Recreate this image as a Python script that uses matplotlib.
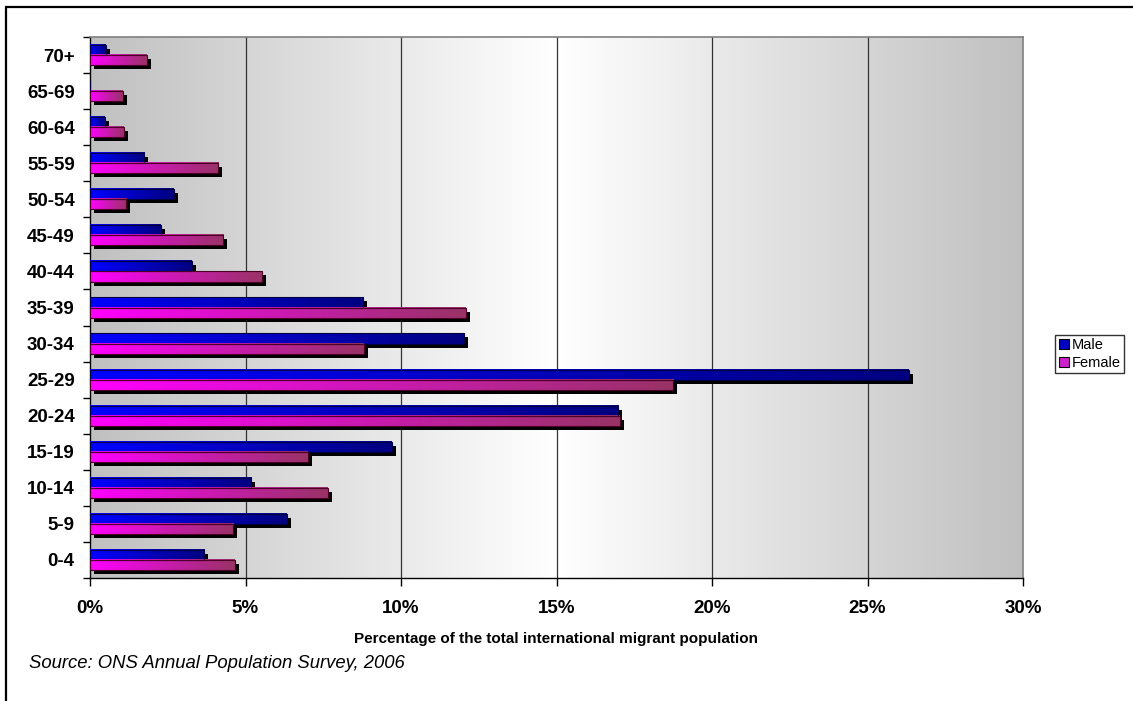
import numpy as np
import matplotlib
matplotlib.use("Agg")
import matplotlib.pyplot as plt
import matplotlib.patheffects as pe
from matplotlib.colors import LinearSegmentedColormap
from matplotlib.patches import Patch, Rectangle

plt.rcParams['font.family'] = ['Liberation Sans', 'DejaVu Sans']

ages = ['0-4', '5-9', '10-14', '15-19', '20-24', '25-29', '30-34', '35-39',
        '40-44', '45-49', '50-54', '55-59', '60-64', '65-69', '70+']
male = [3.67, 6.33, 5.18, 9.71, 16.98, 26.33, 12.03, 8.78,
        3.27, 2.27, 2.69, 1.75, 0.47, 0.0, 0.51]
female = [4.66, 4.60, 7.65, 7.00, 17.04, 18.75, 8.81, 12.09,
          5.52, 4.29, 1.16, 4.13, 1.09, 1.05, 1.83]
xticks = [0, 5, 10, 15, 20, 25, 30]

fig = plt.figure(figsize=(11.33, 7.01), dpi=100)
ax = fig.add_axes([90/1133, 1-578/701, (1023-90)/1133, (578-37)/701])

# plot area background: grey -> white -> grey
g = 1 - np.abs(np.linspace(-1, 1, 512))
bg = LinearSegmentedColormap.from_list('bg', ['#c0c0c0', '#ffffff'])
ax.imshow(g.reshape(1, -1), cmap=bg, aspect='auto', extent=[0, 30, -0.5, 14.5],
          zorder=0, interpolation='bicubic')

y = np.arange(len(ages))
h = 0.28
shadow = [pe.SimplePatchShadow(offset=(2.9, -2.9), shadow_rgbFace='black', alpha=1.0), pe.Normal()]

cm_m = LinearSegmentedColormap.from_list('m', ['#0000ff', '#000080'])
cm_f = LinearSegmentedColormap.from_list('f', ['#ff00ff', '#993366'])
grad = np.linspace(0, 1, 256).reshape(1, -1)

for vals, off, cm, edge in [(male, h/2, cm_m, '#000040'), (female, -h/2, cm_f, '#4d0026')]:
    bars = ax.barh(y + off, vals, height=h, color='none', edgecolor='none', zorder=2)
    for b in bars:
        b.set_path_effects(shadow)
        w = b.get_width()
        if w <= 0:
            continue
        y0 = b.get_y()
        ax.imshow(grad, cmap=cm, aspect='auto', extent=[0, w, y0, y0 + b.get_height()],
                  zorder=3, interpolation='bilinear')
    ax.barh(y + off, vals, height=h, color='none', edgecolor=edge, linewidth=0.8, zorder=4)

for x in xticks[1:-1]:
    ax.axvline(x, color='#333333', linewidth=0.9, zorder=1)

ax.set_xlim(0, 30)
ax.set_ylim(-0.5, len(ages) - 0.5)
ax.set_xticks(xticks)
ax.set_xticklabels([f'{x}%' for x in xticks], fontsize=13.5, fontweight='bold')
ax.set_yticks(y)
ax.set_yticklabels(ages, fontsize=13.5, fontweight='bold')
ax.set_yticks(np.arange(-0.5, len(ages), 1), minor=True)
ax.tick_params(axis='y', which='major', length=0, pad=11)
ax.tick_params(axis='y', which='minor', length=5, width=1, direction='out')
ax.tick_params(axis='x', length=6, width=1, direction='out', pad=10)
ax.set_xlabel('Percentage of the total international migrant population',
              fontsize=11, fontweight='bold', labelpad=11)

for s in ['left', 'bottom']:
    ax.spines[s].set_color('black')
    ax.spines[s].set_linewidth(1)
for s in ['top', 'right']:
    ax.spines[s].set_color('#808080')
    ax.spines[s].set_linewidth(1.2)

handles = [Patch(facecolor='#0000c0', edgecolor='black', linewidth=0.8, label='Male'),
           Patch(facecolor='#cc22cc', edgecolor='black', linewidth=0.8, label='Female')]
fig.legend(handles=handles, loc='center left', bbox_to_anchor=(1055/1133, 1-354/701),
           fontsize=10.5, frameon=True, fancybox=False, edgecolor='black',
           handlelength=0.7, handleheight=0.7, handletextpad=0.2, borderpad=0.25,
           labelspacing=0.25, borderaxespad=0)

fig.text(29/1133, 1-663/701, 'Source: ONS Annual Population Survey, 2006',
         fontsize=13.3, style='italic', va='center', ha='left')

fig.patches.append(Rectangle((6/1133, -0.05), 1.2, 1 - 7/701 + 0.05, transform=fig.transFigure,
                             fill=False, edgecolor='black', linewidth=1.6))

fig.savefig('out.png', dpi=100)
